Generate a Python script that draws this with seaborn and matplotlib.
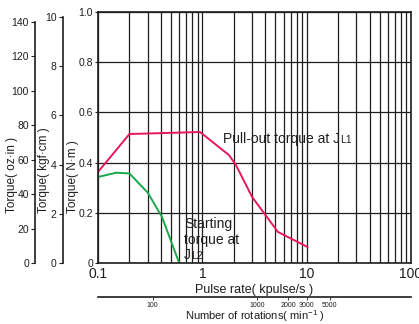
import seaborn as sns
import matplotlib.pyplot as plt
import pandas as pd
from matplotlib.ticker import NullLocator

# curves (x in kpulse/s, y in N·m)
pullout_rate = [0.1, 0.2, 0.95, 1.8, 2.1, 3.0, 5.3, 10.2]
pullout_torque = [0.363, 0.514, 0.522, 0.43, 0.39, 0.263, 0.124, 0.064]
starting_rate = [0.1, 0.15, 0.2, 0.3, 0.41, 0.6]
starting_torque = [0.343, 0.36, 0.357, 0.28, 0.184, 0.0]

nm_ticks = [0, 0.2, 0.4, 0.6, 0.8, 1.0]
nm_labels = ["0", "0.2", "0.4", "0.6", "0.8", "1.0"]
kgf_ticks = [0, 2, 4, 6, 8, 10]
oz_ticks = [0, 20, 40, 60, 80, 100, 120, 140]
rate_ticks = [0.1, 1, 10, 100]
rate_labels = ["0.1", "1", "10", "100"]
rpm_ticks = [100, 1000, 2000, 3000, 5000]

RED = "#e8175d"
GREEN = "#19a84b"
INK = "#1e1e1e"

sns.set_style("white")
plt.rcParams["font.family"] = ["Liberation Sans", "DejaVu Sans"]
plt.rcParams["mathtext.fontset"] = "custom"
plt.rcParams["mathtext.rm"] = "Liberation Sans"

fig = plt.figure(figsize=(4.19, 3.24), dpi=100)
ax = fig.add_axes([0.234, 0.188, 0.747, 0.775])

df_p = pd.DataFrame({"rate": pullout_rate, "torque": pullout_torque})
df_s = pd.DataFrame({"rate": starting_rate, "torque": starting_torque})
sns.lineplot(data=df_p, x="rate", y="torque", color=RED, lw=1.4, ax=ax)
sns.lineplot(data=df_s, x="rate", y="torque", color=GREEN, lw=1.4, ax=ax)

ax.set_xscale("log")
ax.set_xlim(0.1, 100)
ax.set_ylim(0, 1.0)
ax.set_xticks(rate_ticks, rate_labels)
ax.set_yticks(nm_ticks, nm_labels)
ax.grid(which="both", axis="x", color=INK, lw=0.9)
ax.grid(which="major", axis="y", color=INK, lw=0.9)
ax.tick_params(axis="x", which="both", length=0, pad=3, labelsize=10, colors=INK)
ax.tick_params(axis="y", length=2, pad=1.5, labelsize=7.5, colors=INK)
for s in ax.spines.values():
    s.set_color(INK)
    s.set_linewidth(1.2)

ax.set_xlabel("Pulse rate( kpulse/s )", fontsize=9, color=INK, labelpad=2)
ax.set_ylabel("Torque( N·m )", fontsize=8.5, color=INK)
ax.yaxis.label.set(ha="left", va="center")
ax.yaxis.set_label_coords(-0.08, 0.2)

# extra torque scales on the left
def side_axis(lim, ticks, pos, label, label_x):
    tw = ax.twinx()
    tw.set_ylim(0, lim)
    for k in ["right", "top", "bottom"]:
        tw.spines[k].set_visible(False)
    tw.spines["left"].set_visible(True)
    tw.spines["left"].set_position(("axes", pos))
    tw.spines["left"].set_bounds(0, ticks[-1])
    tw.spines["left"].set_color(INK)
    tw.spines["left"].set_linewidth(1.2)
    tw.yaxis.set_ticks_position("left")
    tw.yaxis.set_label_position("left")
    tw.set_yticks(ticks)
    tw.tick_params(axis="y", length=3, pad=1.5, labelsize=7.5, colors=INK)
    tw.set_ylabel(label, fontsize=8.5, color=INK)
    tw.yaxis.label.set(ha="left", va="center")
    tw.yaxis.set_label_coords(label_x, 0.2)
    tw.grid(False)
    return tw

side_axis(10.197, kgf_ticks, -0.112, "Torque( kgf·cm )", -0.172)
side_axis(145.8, oz_ticks, -0.201, "Torque( oz·in )", -0.275)

# rotation scale below (1.8 deg step: rpm = 300 * kpulse/s)
sec = ax.secondary_xaxis(-0.137, functions=(lambda x: x * 300, lambda r: r / 300))
sec.set_xticks(rpm_ticks, [str(v) for v in rpm_ticks])
sec.xaxis.set_minor_locator(NullLocator())
sec.tick_params(axis="x", length=2, width=0.6, pad=1, labelsize=5, colors=INK)
sec.spines["bottom"].set_color(INK)
sec.spines["bottom"].set_linewidth(1.2)
sec.set_xlabel("Number of rotations( min$^{-1}$ )", fontsize=8, color=INK, labelpad=-0.3)

# annotations, the load index written as small caps on the baseline
t1 = ax.text(1.58, 0.494, "Pull-out torque at J", fontsize=10,
             color=INK, ha="left", va="center")
ax.annotate("L1", xy=(1, 0), xycoords=t1, xytext=(0.3, 2.2),
            textcoords="offset points", fontsize=7.5, color=INK,
            ha="left", va="baseline")
t2 = ax.text(0.667, 0.182, "Starting\ntorque at", fontsize=10,
             color=INK, ha="left", va="top", linespacing=1.15)
t3 = ax.annotate("J", xy=(0, 0), xycoords=t2, xytext=(0, -0.5),
                 textcoords="offset points", fontsize=10, color=INK,
                 ha="left", va="top")
ax.annotate("L2", xy=(1, 0), xycoords=t3, xytext=(0.3, 2.2),
            textcoords="offset points", fontsize=7.5, color=INK,
            ha="left", va="baseline")

fig.savefig("out.png", dpi=100)
